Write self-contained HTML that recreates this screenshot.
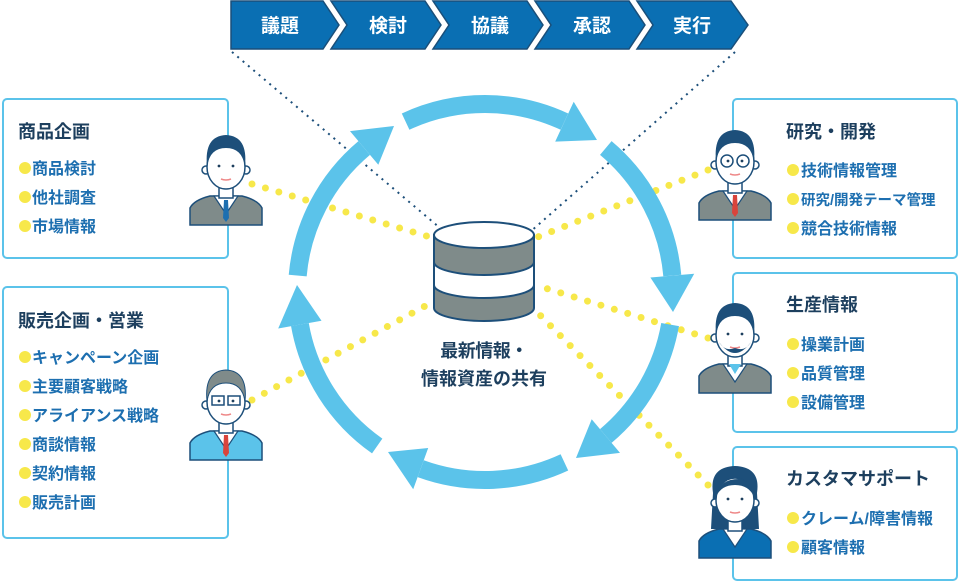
<!DOCTYPE html>
<html><head><meta charset="utf-8"><style>
body{margin:0;width:960px;height:583px;background:#fff;overflow:hidden;font-family:"Liberation Sans","Noto Sans CJK JP",sans-serif;}
</style></head><body>
<svg width="960" height="583" viewBox="0 0 960 583" xmlns="http://www.w3.org/2000/svg" style="position:absolute;left:0;top:0">
<defs>
<g id="p">
<path d="M0 95 L0 78 Q4 70 20 66 L52 66 Q68 70 72 78 L72 95 Z" stroke="#1d4f7a" stroke-width="1.5"/>
<path d="M24 66 L36 84 L48 66 Z" fill="#fff" stroke="#1d4f7a" stroke-width="1.2"/>
<rect x="29" y="50" width="14" height="18" fill="#fff" stroke="#1d4f7a" stroke-width="1.5"/>
<circle cx="16" cy="40" r="4" fill="#fff" stroke="#1d4f7a" stroke-width="1.5"/>
<circle cx="56" cy="40" r="4" fill="#fff" stroke="#1d4f7a" stroke-width="1.5"/>
<ellipse cx="36" cy="37" rx="19" ry="22" fill="#fff" stroke="#1d4f7a" stroke-width="1.5"/>
<circle cx="29" cy="36" r="1.4" fill="#1d3f5e"/><circle cx="43" cy="36" r="1.4" fill="#1d3f5e"/>
<path d="M31 49 Q36 51 41 49" stroke="#e88" stroke-width="1.5" fill="none"/>
</g>
</defs>
<g stroke="#1a4f7a" stroke-width="1.5" fill="#0a6fb3">
<path d="M231 1 L323 1 L339 25 L323 49 L231 49 Z"/>
<path d="M331 1 L425 1 L441 25 L425 49 L331 49 L347 25 Z"/>
<path d="M433 1 L527 1 L543 25 L527 49 L433 49 L449 25 Z"/>
<path d="M535 1 L629 1 L645 25 L629 49 L535 49 L551 25 Z"/>
<path d="M637 1 L731 1 L748 25 L731 49 L637 49 L653 25 Z"/>
</g>
<g fill="#fff" font-size="19" font-weight="bold" text-anchor="middle">
<text x="280" y="32">議題</text><text x="388" y="32">検討</text><text x="490" y="32">協議</text><text x="592" y="32">承認</text><text x="692" y="32">実行</text>
</g>
<g stroke="#1d4f7a" stroke-width="2" stroke-dasharray="2 5" fill="none">
<line x1="232" y1="52" x2="440" y2="228"/><line x1="735" y1="52" x2="530" y2="232"/>
</g>
<g stroke="#f7e84a" stroke-width="7" stroke-linecap="round" stroke-dasharray="0 14" fill="none">
<line x1="252" y1="184" x2="440" y2="240"/>
<line x1="252" y1="400" x2="440" y2="298"/>
<line x1="708" y1="170" x2="530" y2="240"/>
<line x1="708" y1="338" x2="535" y2="285"/>
<line x1="708" y1="485" x2="530" y2="305"/>
</g>
<g stroke="#5bc3ea" stroke-width="18" fill="none">
<path d="M405.6 121.6 A188 188 0 0 1 564.4 121.6"/>
<path d="M605.8 148 A188 188 0 0 1 672.3 275.6"/>
<path d="M670.1 324.6 A188 188 0 0 1 605.8 436"/>
<path d="M564.4 462.4 A188 188 0 0 1 420.7 468.7"/>
<path d="M377.2 446 A188 188 0 0 1 299.9 324.6"/>
<path d="M297.7 275.6 A188 188 0 0 1 364.2 148"/>
</g>
<g fill="#5bc3ea">
<path d="M573.7 101.7 L555.2 141.6 L597 140 Z"/>
<path d="M694.2 273.7 L650.4 277.5 L673 312 Z"/>
<path d="M620 452.9 L591.7 419.2 L576 458 Z"/>
<path d="M413.2 489.3 L428.2 448 L388 452 Z"/>
<path d="M278.2 328.5 L321.5 320.8 L297 285 Z"/>
<path d="M350 131.1 L378.3 164.8 L394 126 Z"/>
</g>
<g stroke="#1d4f7a" stroke-width="2">
<path d="M434 235 L434 308 A50 13 0 0 0 534 308 L534 235 Z" fill="#7f8b8a"/>
<path d="M434 262 A50 13 0 0 0 534 262 L534 285 A50 13 0 0 1 434 285 Z" fill="#fff"/>
<ellipse cx="484" cy="235" rx="50" ry="13" fill="#fff"/>
</g>
<g fill="#1d3f5e" font-size="18" font-weight="bold" text-anchor="middle">
<text x="484" y="357" letter-spacing="-0.5">最新情報・</text><text x="484" y="385">情報資産の共有</text>
</g>
<g fill="#fff" stroke="#5bc3ea" stroke-width="2">
<rect x="3" y="99" width="225" height="159" rx="4"/>
<rect x="3" y="287" width="225" height="251" rx="4"/>
<rect x="733" y="99" width="224" height="159" rx="4"/>
<rect x="733" y="273" width="224" height="159" rx="4"/>
<rect x="733" y="447" width="224" height="133" rx="4"/>
</g>
<g fill="#1d3f5e" font-size="18" font-weight="bold">
<text x="18" y="138">商品企画</text>
<text x="18" y="327">販売企画・営業</text>
<text x="786" y="138">研究・開発</text>
<text x="786" y="311">生産情報</text>
<text x="786" y="485">カスタマサポート</text>
</g>
<g fill="#f7e84a">
<circle cx="25" cy="168" r="6"/><circle cx="25" cy="197" r="6"/><circle cx="25" cy="226" r="6"/>
<circle cx="25" cy="357" r="6"/><circle cx="25" cy="386" r="6"/><circle cx="25" cy="415" r="6"/><circle cx="25" cy="444" r="6"/><circle cx="25" cy="473" r="6"/><circle cx="25" cy="502" r="6"/>
<circle cx="793" cy="170" r="6"/><circle cx="793" cy="199" r="6"/><circle cx="793" cy="228" r="6"/>
<circle cx="793" cy="344" r="6"/><circle cx="793" cy="373" r="6"/><circle cx="793" cy="402" r="6"/>
<circle cx="793" cy="518" r="6"/><circle cx="793" cy="547" r="6"/>
</g>
<g fill="#1d6fb0" font-size="16" font-weight="bold">
<text x="32" y="174">商品検討</text><text x="32" y="203">他社調査</text><text x="32" y="232">市場情報</text>
<text x="32" y="363">キャンペーン企画</text><text x="32" y="392">主要顧客戦略</text><text x="32" y="421">アライアンス戦略</text><text x="32" y="450">商談情報</text><text x="32" y="479">契約情報</text><text x="32" y="508">販売計画</text>
<text x="801" y="176">技術情報管理</text><text x="801" y="205" font-size="14.5">研究/開発テーマ管理</text><text x="801" y="234">競合技術情報</text>
<text x="801" y="350">操業計画</text><text x="801" y="379">品質管理</text><text x="801" y="408">設備管理</text>
<text x="801" y="524">クレーム/障害情報</text><text x="801" y="553">顧客情報</text>
</g>
<g transform="translate(190,130)"><use href="#p" fill="#7f8b8a"/><path d="M34 70 L38 70 L39 88 L36 92 L33 88 Z" fill="#1d6fb0"/><path d="M17 36 Q14 6 36 5 Q58 6 55 36 Q52 18 36 18 Q20 18 17 36 Z" fill="#1d4f7a"/></g>
<g transform="translate(190,365)"><use href="#p" fill="#5bc3ea"/><path d="M34 70 L38 70 L39 88 L36 92 L33 88 Z" fill="#d9443c"/><path d="M17 36 Q14 6 36 5 Q58 6 55 36 Q52 18 36 18 Q20 18 17 36 Z" fill="#7f8b8a" stroke="#1d4f7a"/><g stroke="#1d4f7a" stroke-width="1.5" fill="none"><rect x="22" y="31" width="12" height="9"/><rect x="38" y="31" width="12" height="9"/></g></g>
<g transform="translate(699,125)"><use href="#p" fill="#7f8b8a"/><path d="M34 70 L38 70 L39 88 L36 92 L33 88 Z" fill="#d9443c"/><path d="M17 36 Q14 6 36 5 Q58 6 55 36 Q52 18 36 18 Q20 18 17 36 Z" fill="#1d4f7a"/><g stroke="#1d4f7a" stroke-width="1.5" fill="none"><circle cx="28" cy="36" r="6"/><circle cx="44" cy="36" r="6"/></g></g>
<g transform="translate(699,298)"><use href="#p" fill="#7f8b8a"/><path d="M30 66 L36 76 L42 66 Z" fill="#5bc3ea"/><path d="M17 36 Q14 6 36 5 Q58 6 55 36 Q52 18 36 18 Q20 18 17 36 Z" fill="#1d4f7a"/><path d="M20 44 Q36 66 52 44 Q46 54 36 50 Q26 54 20 44 Z" fill="#1d4f7a"/></g>
<g transform="translate(699,463)"><path d="M14 30 Q10 4 36 3 Q62 4 58 30 L60 66 L12 66 Z" fill="#1d4f7a"/><use href="#p" fill="#0a6fb3"/><path d="M17 34 Q20 16 40 16 Q52 18 55 34 Q50 22 36 22 Q22 22 17 34 Z" fill="#1d4f7a"/></g>
</svg>
</body></html>
